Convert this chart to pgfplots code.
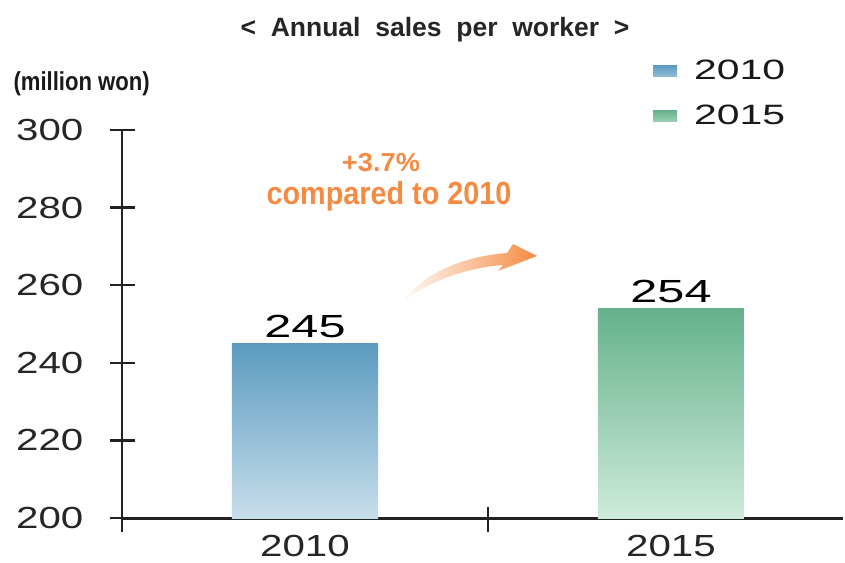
\documentclass[border=0pt]{standalone}
\usepackage{pgfplots}
\pgfplotsset{compat=1.18}
\usepackage{fontspec}
\setmainfont{Liberation Sans}
\newfontfamily\tickfont[FakeStretch=1.32]{Liberation Sans}
\newfontfamily\barfont[FakeStretch=1.52]{Liberation Sans}
\newfontfamily\legfont[FakeStretch=1.46]{Liberation Sans}
\newfontfamily\titlefont[WordSpace=2]{Liberation Sans}
\newfontfamily\unitfont[FakeStretch=0.85]{Liberation Sans}
\newfontfamily\notefontA[FakeStretch=1.05]{Liberation Sans}
\newfontfamily\notefontB[FakeStretch=0.9]{Liberation Sans}
\definecolor{blueTop}{RGB}{91,154,191}
\definecolor{blueBot}{RGB}{199,222,235}
\definecolor{greenTop}{RGB}{101,178,140}
\definecolor{greenBot}{RGB}{206,234,219}
\definecolor{noteor}{RGB}{245,138,66}
\definecolor{axisdark}{RGB}{34,34,34}
\definecolor{tickgray}{RGB}{38,38,38}

\begin{document}
\begin{tikzpicture}
\useasboundingbox (0,0) rectangle (845pt,562pt);
\begin{axis}[
  at={(122pt,44pt)}, anchor=south west,
  scale only axis, width=721pt, height=388pt,
  xmin=-0.5, xmax=1.47,
  ymin=200, ymax=300,
  % bars start at 200: shift y so that 200 becomes the bar base
  y coord trafo/.code={\pgfmathparse{#1-200}},
  y coord inv trafo/.code={\pgfmathparse{#1+200}},
  ytick={200,220,240,260,280,300},
  yticklabels={200,220,240,260,280,300},
  xtick={-0.5,0.5}, xticklabels={},
  extra x ticks={0,1}, extra x tick labels={2010,2015},
  extra x tick style={major tick length=0pt, tick style={draw=none},
    xticklabel style={anchor=north, inner sep=0pt, yshift=-17pt}},
  axis x line*=bottom, axis y line*=left,
  x axis line style={line width=3pt, draw=axisdark},
  y axis line style={line width=2.5pt, draw=axisdark},
  tick align=center,
  major tick length=25pt,
  tick style={line width=2.5pt, draw=axisdark},
  xtick style={yshift=11pt},
  tick label style={font=\tickfont\fontsize{30.5}{31}\selectfont, text=tickgray},
  yticklabel style={anchor=east, inner sep=0pt, xshift=-26pt},
  ybar, bar width=146pt, bar shift=0pt,
  point meta=explicit symbolic,
  nodes near coords,
  nodes near coords style={anchor=south, inner sep=0pt, yshift=5pt,
    font=\barfont\fontsize{32}{32}\selectfont, text=black},
  legend style={at={(0.7365,1.1804)}, anchor=north west, draw=none, fill=none,
    inner sep=0pt, row sep=24pt, column sep=17pt,
    font=\legfont\fontsize{28}{28}\selectfont, text=black!90,
    nodes={inner sep=0pt}},
  legend cell align=left,
]
\addplot[draw=none, top color=blueTop, bottom color=blueBot,
  legend image code/.code={\shade[top color=blueTop, bottom color=blueBot!50!blueTop] (0pt,-5.5pt) rectangle (24pt,5.5pt);}]
  coordinates {(0,245) [245]};
\addlegendentry{2010}
\addplot[draw=none, top color=greenTop, bottom color=greenBot,
  legend image code/.code={\shade[top color=greenTop, bottom color=greenBot!50!greenTop] (0pt,-5.5pt) rectangle (24pt,5.5pt);}]
  coordinates {(1,254) [254]};
\addlegendentry{2015}
\end{axis}
\node[anchor=base, text=tickgray, font=\titlefont\bfseries\fontsize{26.5}{27}\selectfont]
  at (435pt,525pt) {< Annual sales per worker >};
\node[anchor=base west, text=black!90, font=\unitfont\bfseries\fontsize{26}{26}\selectfont]
  at (10pt,471pt) {(million won)};
\node[anchor=base, text=noteor, font=\notefontA\bfseries\fontsize{26}{26}\selectfont]
  at (381pt,390pt) {+3.7\%};
\node[anchor=base, text=noteor, font=\notefontB\bfseries\fontsize{32}{32}\selectfont]
  at (389pt,357pt) {compared to 2010};
\shade[left color=white, right color=noteor]
  (398pt,256pt) .. controls (425pt,280pt) and (465pt,294pt) .. (503pt,297pt)
  -- (498pt,291pt) -- (537pt,306pt) -- (513pt,318pt) -- (507pt,309pt)
  .. controls (468pt,306pt) and (428pt,292pt) .. (404pt,263pt) -- cycle;
\end{tikzpicture}
\end{document}
